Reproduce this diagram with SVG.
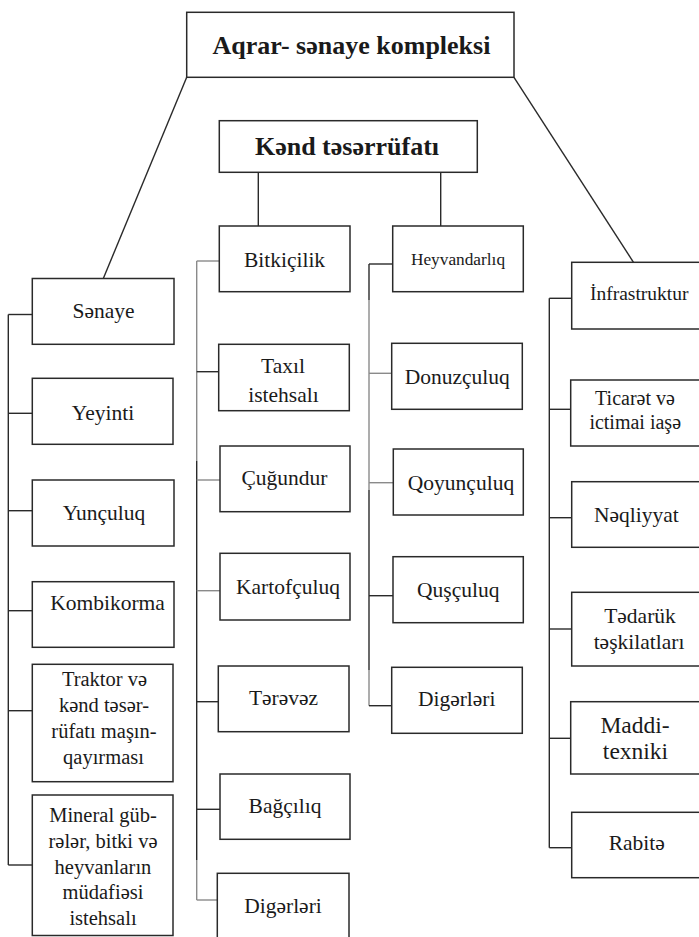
<svg xmlns="http://www.w3.org/2000/svg" width="699" height="937" viewBox="0 0 699 937">
<style>
rect{fill:#fff;stroke:#2a2a2a;stroke-width:1.5}
.c line{stroke:#2a2a2a;stroke-width:1.4}
.c line.g{stroke:#8a8a8a}
text{font-family:'Liberation Serif','Times New Roman',serif;font-size:21.5px;fill:#1a1a1a;text-anchor:middle}
.b{font-weight:bold;font-size:26px}
</style>
<rect x="0" y="0" width="699" height="937" style="fill:#fff;stroke:none"/>
<g class="c" id="connectors">
<line x1="186.7" y1="77.3" x2="103.3" y2="278.5"/>
<line x1="514" y1="77.3" x2="633.5" y2="262.3"/>
<line x1="258.3" y1="172.3" x2="258.3" y2="226"/>
<line x1="440.7" y1="172.3" x2="440.7" y2="226"/>
<line x1="8.3" y1="314.5" x2="8.3" y2="865"/>
<line x1="8.3" y1="314.5" x2="32.3" y2="314.5"/>
<line x1="8.3" y1="413.3" x2="32.3" y2="413.3"/>
<line x1="8.3" y1="510.7" x2="32.3" y2="510.7"/>
<line x1="8.3" y1="610.7" x2="32.3" y2="610.7"/>
<line x1="8.3" y1="710.7" x2="32.3" y2="710.7"/>
<line x1="8.3" y1="865" x2="32.3" y2="865"/>
<line class="g" x1="196.7" y1="261" x2="196.7" y2="461"/>
<line x1="196.7" y1="461" x2="196.7" y2="860"/>
<line class="g" x1="196.7" y1="860" x2="196.7" y2="900"/>
<line class="g" x1="196.7" y1="261" x2="219.3" y2="261"/>
<line x1="196.7" y1="371.7" x2="218.7" y2="371.7"/>
<line class="g" x1="196.7" y1="480" x2="220" y2="480"/>
<line class="g" x1="196.7" y1="590.7" x2="220" y2="590.7"/>
<line x1="196.7" y1="701.7" x2="218.3" y2="701.7"/>
<line x1="196.7" y1="809.3" x2="220" y2="809.3"/>
<line class="g" x1="196.7" y1="900" x2="217.3" y2="900"/>
<line x1="369" y1="264" x2="369" y2="300"/>
<line class="g" x1="369" y1="300" x2="369" y2="490"/>
<line x1="369" y1="490" x2="369" y2="670"/>
<line class="g" x1="369" y1="670" x2="369" y2="705.7"/>
<line x1="369" y1="264" x2="392.7" y2="264"/>
<line class="g" x1="369" y1="373.3" x2="391.7" y2="373.3"/>
<line class="g" x1="369" y1="482.7" x2="393.3" y2="482.7"/>
<line x1="369" y1="595.7" x2="393" y2="595.7"/>
<line x1="369" y1="705.7" x2="391.7" y2="705.7"/>
<line x1="549.3" y1="298.3" x2="549.3" y2="847.7"/>
<line x1="549.3" y1="298.3" x2="571.7" y2="298.3"/>
<line x1="549.3" y1="409.3" x2="570.7" y2="409.3"/>
<line x1="549.3" y1="517.7" x2="571.7" y2="517.7"/>
<line x1="549.3" y1="629" x2="571.7" y2="629"/>
<line x1="549.3" y1="738.3" x2="570.7" y2="738.3"/>
<line x1="549.3" y1="847.7" x2="571.7" y2="847.7"/>
</g>
<g id="aqrar"><rect x="186.7" y="12.3" width="327.3" height="65"/><text class="b" x="351.5" y="53.5">Aqrar- sənaye kompleksi</text></g>
<g id="kend"><rect x="219.3" y="120.7" width="258" height="51.6"/><text class="b" x="347" y="154.5">Kənd təsərrüfatı</text></g>
<g id="senaye"><rect x="32.3" y="278.5" width="141.7" height="65.8"/><text x="103.5" y="318">Sənaye</text></g>
<g id="yeyinti"><rect x="32.3" y="378.3" width="140.7" height="66"/><text x="103" y="419.5">Yeyinti</text></g>
<g id="yunculuq"><rect x="32.3" y="480" width="141.7" height="66"/><text x="104" y="519.5">Yunçuluq</text></g>
<g id="kombikorma"><rect x="32.3" y="581.7" width="141.7" height="65.6"/><text x="107.5" y="610">Kombikorma</text></g>
<g id="traktor"><rect x="32.3" y="664.3" width="140.7" height="117.4"/><text style="font-size:20.5px"><tspan x="104.5" y="686">Traktor və</tspan><tspan x="104" y="712">kənd təsər-</tspan><tspan x="104" y="738.3">rüfatı maşın-</tspan><tspan x="103.5" y="764.3">qayırması</tspan></text></g>
<g id="mineral"><rect x="32.3" y="795" width="140.7" height="140.5"/><text style="font-size:20.5px"><tspan x="103" y="821.7">Mineral güb-</tspan><tspan x="103" y="848">rələr, bitki və</tspan><tspan x="103" y="873.5">heyvanların</tspan><tspan x="103" y="898.5">müdafiəsi</tspan><tspan x="103" y="925">istehsalı</tspan></text></g>
<g id="bitkicilik"><rect x="219.3" y="226" width="130.7" height="65.7"/><text x="284.5" y="266.7">Bitkiçilik</text></g>
<g id="taxil"><rect x="218.7" y="344.3" width="130.6" height="66.4"/><text><tspan x="283" y="373.3">Taxıl</tspan><tspan x="283.5" y="401.7">istehsalı</tspan></text></g>
<g id="cugundur"><rect x="220" y="446" width="130" height="65.7"/><text x="284.5" y="485">Çuğundur</text></g>
<g id="kartofculuq"><rect x="220" y="553.3" width="130" height="66.7"/><text x="288" y="594">Kartofçuluq</text></g>
<g id="terevez"><rect x="218.3" y="666" width="130.7" height="65.7"/><text x="283.5" y="705">Tərəvəz</text></g>
<g id="bagciliq"><rect x="220" y="774" width="130" height="65.3"/><text x="285" y="813.3">Bağçılıq</text></g>
<g id="digerleri1"><rect x="217.3" y="873.3" width="131.7" height="72"/><text x="283" y="913.3">Digərləri</text></g>
<g id="heyvandarliq"><rect x="392.7" y="226" width="130.6" height="65.7"/><text x="458" y="265" style="font-size:17.3px">Heyvandarlıq</text></g>
<g id="donuzculuq"><rect x="391.7" y="343.3" width="130.6" height="66"/><text x="457.2" y="384">Donuzçuluq</text></g>
<g id="qoyunculuq"><rect x="393.3" y="449" width="130" height="66"/><text x="461" y="490">Qoyunçuluq</text></g>
<g id="qusculuq"><rect x="393" y="556.7" width="130.3" height="66"/><text x="458.3" y="596.7">Quşçuluq</text></g>
<g id="digerleri2"><rect x="391.7" y="667.3" width="130.6" height="66"/><text x="456.7" y="706">Digərləri</text></g>
<g id="infrastruktur"><rect x="571.7" y="262.3" width="135" height="66.7"/><text x="639.2" y="300" style="font-size:19.5px">İnfrastruktur</text></g>
<g id="ticaret"><rect x="570.7" y="380" width="136" height="66"/><text style="font-size:20px"><tspan x="635" y="405">Ticarət və</tspan><tspan x="635.2" y="429.3">ictimai iaşə</tspan></text></g>
<g id="neqliyyat"><rect x="571.7" y="481.7" width="135" height="65.6"/><text x="636.3" y="521.7">Nəqliyyat</text></g>
<g id="tedaruk"><rect x="571.7" y="592.3" width="135" height="73.7"/><text><tspan x="640" y="623.3">Tədarük</tspan><tspan x="639" y="649">təşkilatları</tspan></text></g>
<g id="maddi"><rect x="570.7" y="701.7" width="136" height="72.3"/><text style="font-size:23.5px"><tspan x="635" y="732.7">Maddi-</tspan><tspan x="635.5" y="759.3">texniki</tspan></text></g>
<g id="rabite"><rect x="571.7" y="812.3" width="135" height="65.4"/><text x="636.7" y="850">Rabitə</text></g>
</svg>
